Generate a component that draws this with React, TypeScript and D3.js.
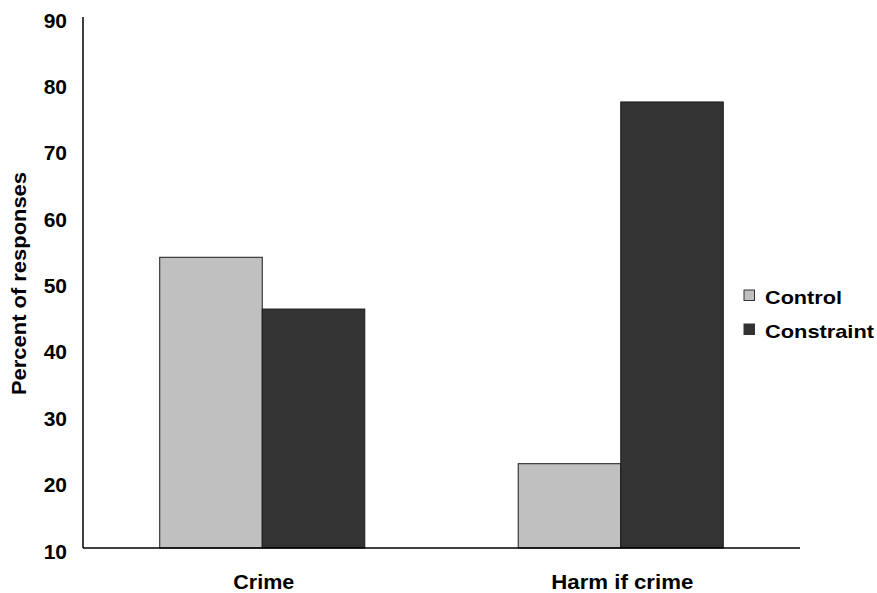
import React from "react";
import * as d3 from "d3";

const categories = ["Crime", "Harm if crime"];
const seriesNames = ["Control", "Constraint"];
const controlValues = [53.8, 22.7];
const constraintValues = [46.0, 77.2];
const yTicks = [10, 20, 30, 40, 50, 60, 70, 80, 90];
const colors = ["#c0c0c0", "#333333"];
const categoryLabelWidths = [61, 142];
const legendLabelWidths = [77, 109];

export default function App() {
  const W = 877, H = 593;
  const x0 = 83, x1 = 800, yTop = 17, yBot = 548;
  const x = d3.scaleBand<string>().domain(categories).range([x0, x1]).padding(0);
  const inner = d3
    .scaleBand<string>()
    .domain(seriesNames)
    .range([x.bandwidth() * 0.214, x.bandwidth() * 0.786])
    .padding(0);
  const y = d3.scaleLinear().domain([10, 90]).range([yBot, yTop]);
  const series = [controlValues, constraintValues];
  const font = "'Liberation Sans', Arial, Helvetica, sans-serif";

  return (
    <svg width={W} height={H} style={{ position: "absolute", left: 0, top: 0, background: "#fff" }} fontFamily={font}>
      {categories.map((c, ci) =>
        seriesNames.map((s, si) => {
          const v = series[si][ci];
          const bx = (x(c) as number) + (inner(s) as number);
          return (
            <rect
              key={c + s}
              x={bx}
              y={y(v)}
              width={inner.bandwidth()}
              height={yBot - y(v)}
              fill={colors[si]}
              stroke="#1a1a1a"
              strokeWidth={1}
            />
          );
        })
      )}
      <line x1={x0} x2={x0} y1={yTop} y2={yBot} stroke="#000" strokeWidth={1.5} />
      <line x1={x0} x2={x1} y1={yBot} y2={yBot} stroke="#000" strokeWidth={1.5} />
      {yTicks.map((t) => (
        <text key={t} x={67} y={y(t) + 10.5} textAnchor="end" fontSize={21} fontWeight="bold">
          {t}
        </text>
      ))}
      {categories.map((c, i) => (
        <text
          key={c}
          x={(x(c) as number) + x.bandwidth() / 2 + 1.5}
          y={589}
          textAnchor="middle"
          fontSize={19.5}
          fontWeight="bold"
          textLength={categoryLabelWidths[i]}
          lengthAdjust="spacingAndGlyphs"
        >
          {c}
        </text>
      ))}
      <text
        transform={`translate(26, 283.5) rotate(-90)`}
        textAnchor="middle"
        fontSize={19.5}
        fontWeight="bold"
        textLength={223}
        lengthAdjust="spacingAndGlyphs"
      >
        Percent of responses
      </text>
      {seriesNames.map((s, i) => (
        <g key={s} transform={`translate(744, ${290 + i * 34})`}>
          <rect x={0} y={0} width={10.5} height={10.5} fill={colors[i]} stroke="#333" strokeWidth={1} />
          <text
            x={21}
            y={14}
            fontSize={18.5}
            fontWeight="bold"
            textLength={legendLabelWidths[i]}
            lengthAdjust="spacingAndGlyphs"
          >
            {s}
          </text>
        </g>
      ))}
    </svg>
  );
}
